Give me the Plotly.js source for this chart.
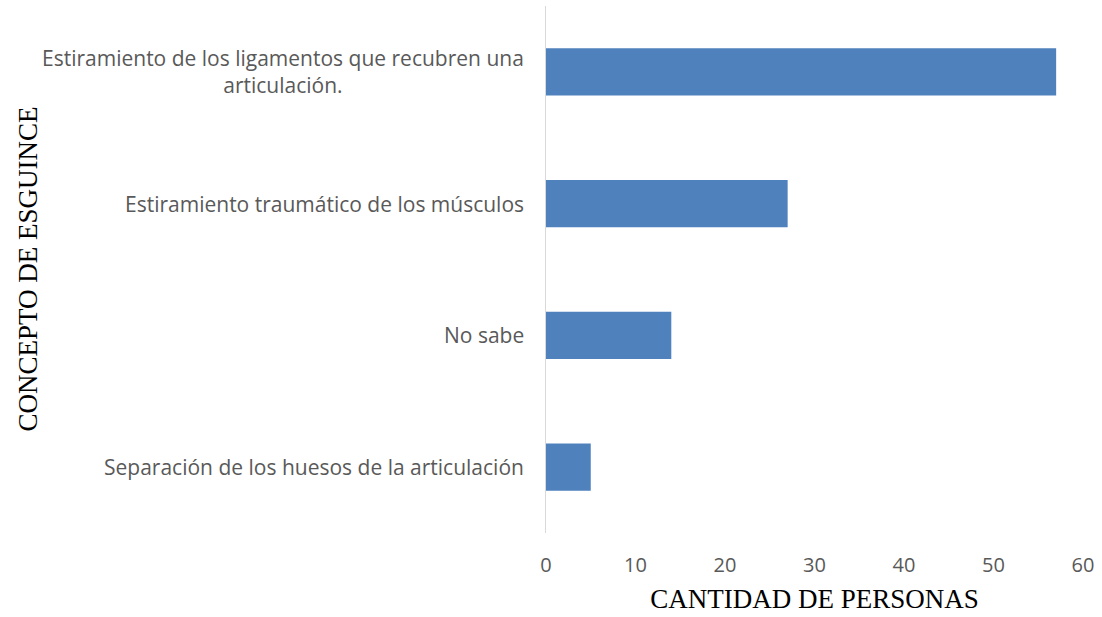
<!DOCTYPE html>
<html>
<head>
<meta charset="utf-8">
<script src="https://cdn.plot.ly/plotly-3.0.1.min.js"></script>
<style>html,body{margin:0;padding:0;background:#fff;}#chart{width:1102px;height:617px;}</style>
</head>
<body>
<div id="chart"></div>
<script>
const categories = [
  "Estiramiento de los ligamentos que recubren una<br>articulación.",
  "Estiramiento traumático de los músculos",
  "No sabe",
  "Separación de los huesos de la articulación"
];
const values = [57, 27, 14, 5];
const xTicks = [0, 10, 20, 30, 40, 50, 60];
const xTitle = 'CANTIDAD DE PERSONAS';
const yTitle = 'CONCEPTO DE ESGUINCE';

const trace = {
  type: 'bar',
  orientation: 'h',
  x: values,
  y: categories,
  marker: {color: '#4f81bd'},
  hoverinfo: 'x+y'
};

const labelFont = {family: 'Open Sans, sans-serif', size: 21, color: '#595959'};
const tickFont = {family: 'Open Sans, sans-serif', size: 20, color: '#595959'};
const titleFont = {family: 'Liberation Serif, Times New Roman, serif', size: 27, color: '#000000'};

const catAnnotations = categories.map(function(c){
  return {
    xref: 'paper', yref: 'y', x: 0, y: c,
    xanchor: 'right', yanchor: 'middle', xshift: -20,
    text: c, showarrow: false, align: 'center',
    font: labelFont
  };
});

const layout = {
  width: 1102,
  height: 617,
  margin: {l: 546, r: 19, t: 6, b: 84},
  paper_bgcolor: '#ffffff',
  plot_bgcolor: '#ffffff',
  showlegend: false,
  bargap: 0.64,
  xaxis: {
    range: [0, 60],
    tickvals: xTicks,
    ticktext: xTicks.map(String),
    showgrid: false,
    zeroline: false,
    showline: false,
    ticks: '',
    ticklabelstandoff: 18,
    tickfont: tickFont,
    title: {text: xTitle, font: titleFont, standoff: 12}
  },
  yaxis: {
    type: 'category',
    categoryorder: 'array',
    categoryarray: categories,
    autorange: 'reversed',
    showgrid: false,
    zeroline: false,
    showline: true,
    linecolor: '#d9d9d9',
    linewidth: 1.5,
    ticks: '',
    showticklabels: false
  },
  annotations: catAnnotations.concat([{
    xref: 'paper', yref: 'paper', x: -546/537, y: 0.5,
    xanchor: 'center', yanchor: 'middle', xshift: 27,
    text: yTitle, textangle: -90, showarrow: false,
    font: titleFont
  }])
};

Plotly.newPlot('chart', [trace], layout, {displayModeBar: false, staticPlot: true});
</script>
</body>
</html>
